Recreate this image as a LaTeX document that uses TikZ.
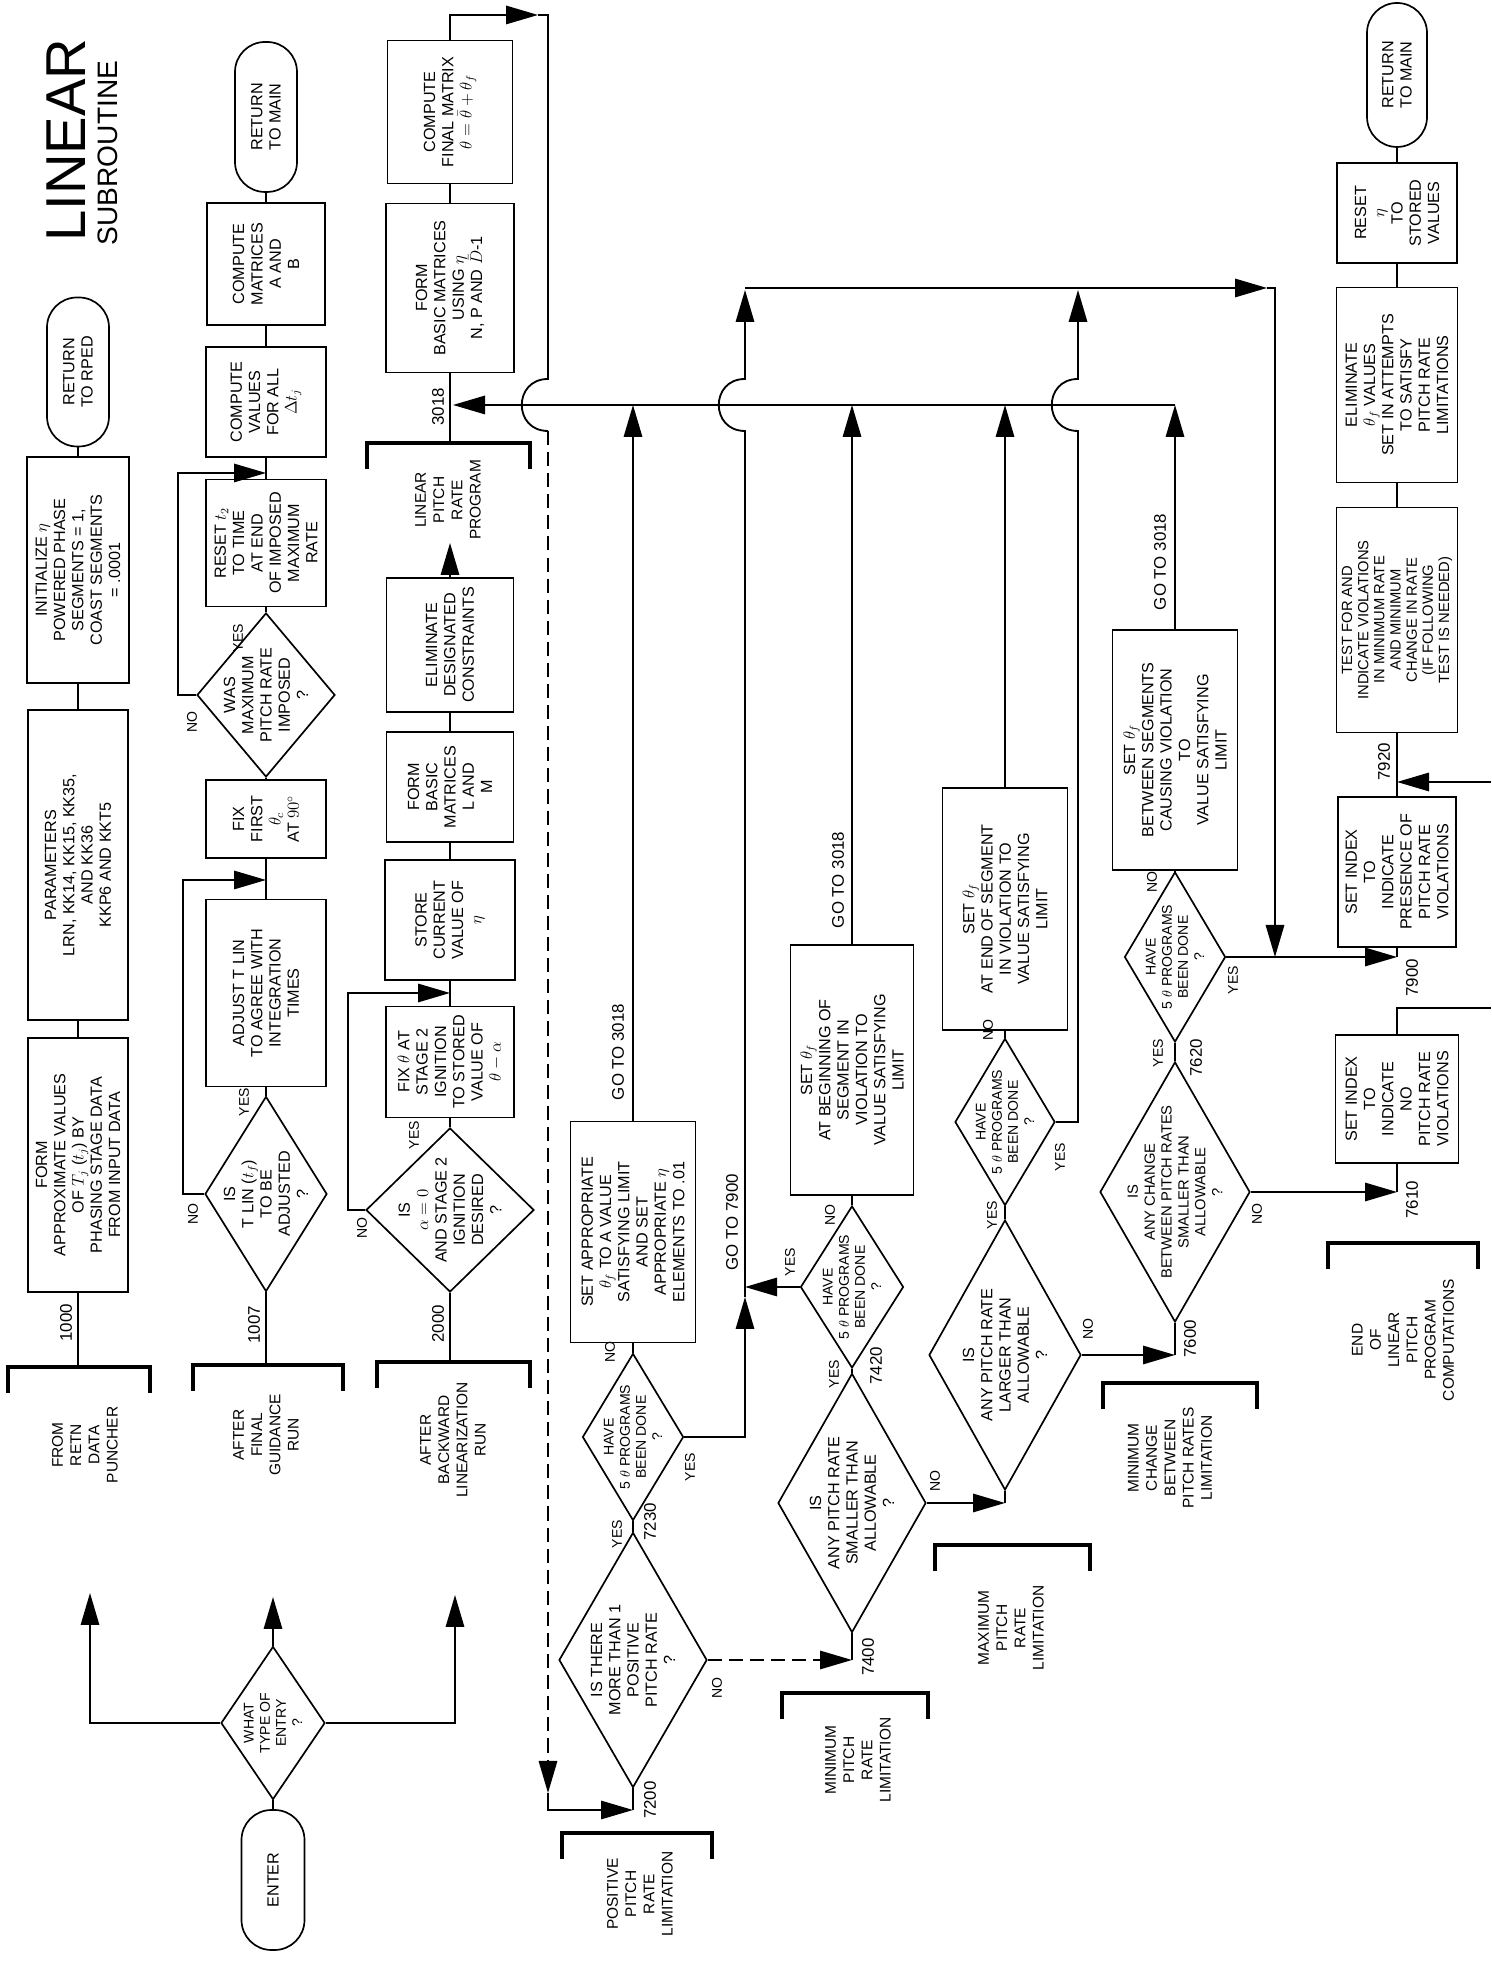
\documentclass[tikz,border=0pt]{standalone}
\usepackage{fontspec}
\setmainfont{Liberation Sans}
\usetikzlibrary{arrows.meta,shapes.geometric}

\tikzset{
  dims/.style 2 args={minimum width=#1*0.25mm, minimum height=#2*0.25mm},
  flowline/.style={line width=1.3pt},
  flowarrow/.style={line width=1.3pt, -{Triangle[length=8mm,width=4.6mm]}},
  brokenline/.style={dash pattern=on 10pt off 5pt},
  box/.style={draw, line width=1.2pt, align=center, inner sep=0pt,
    font=\fontsize{11.5}{13}\selectfont},
  term/.style={box, rounded corners=7.5mm},
  decide/.style={draw, line width=1.2pt, diamond, inner sep=0pt},
  dtext/.style={align=center, inner sep=0pt, font=\fontsize{11.5}{13}\selectfont},
  stext/.style={align=center, inner sep=0pt, font=\fontsize{10}{11.5}\selectfont},
  lab/.style={inner sep=0pt, font=\fontsize{10}{10}\selectfont},
  num/.style={inner sep=0pt, font=\fontsize{12}{12}\selectfont},
  goto/.style={inner sep=0pt, font=\fontsize{12}{12}\selectfont},
  bracket/.style={line width=3.5pt},
  brtext/.style={align=center, inner sep=0pt, font=\fontsize{11}{13}\selectfont},
}

\begin{document}
\begin{tikzpicture}[rotate=90, transform shape, x=0.25mm, y=0.25mm]
  \useasboundingbox (0,0) rectangle (1978,-1491);

  \node[font=\fontsize{40}{40}\selectfont] (title) at (1838,-66) {LINEAR};
  \node[font=\fontsize{20}{20}\selectfont] (subtitle) at (1825,-108) {SUBROUTINE};

  % entry
  \node[term, dims={140}{63}] (enter) at (98,-273) {ENTER};
  \node[decide, dims={153}{104}] (entry) at (255,-273) {};
  \node[stext] (entryt) at (entry) {WHAT\\TYPE OF\\ENTRY\\?};
  \draw[flowline] (enter.east) -- (entry.west);
  \draw[flowarrow] (entry.north) -- (255,-90) -- (385,-90);
  \draw[flowarrow] (entry.east) -- (381,-273);
  \draw[flowarrow] (entry.south) -- (255,-455) -- (383,-455);

  \foreach \bx/\ya/\yb in {611/-8/-150, 613/-193/-343, 616/-377/-530, 1535/-367/-530,
      145/-562/-712, 285/-782/-928, 433/-935/-1090, 595/-1103/-1257, 735/-1328/-1478}
    \draw[bracket] (\bx-26,\ya) -- (\bx,\ya) -- (\bx,\yb) -- (\bx-26,\yb);

  \node[brtext] (from1) at (533,-85) {FROM\\RETN\\DATA\\PUNCHER};
  \node[brtext] (from2) at (543,-266) {AFTER\\FINAL\\GUIDANCE\\RUN};
  \node[brtext] (from3) at (538,-453) {AFTER\\BACKWARD\\LINEARIZATION\\RUN};
  \node[brtext] (lprog) at (1478,-448) {LINEAR\\PITCH\\RATE\\PROGRAM};
  \node[brtext] (posrate) at (84,-640) {POSITIVE\\PITCH\\RATE\\LIMITATION};
  \node[brtext] (minrate) at (218,-858) {MINIMUM\\PITCH\\RATE\\LIMITATION};
  \node[brtext] (maxrate) at (350,-1011) {MAXIMUM\\PITCH\\RATE\\LIMITATION};
  \node[brtext] (minchg) at (520,-1170) {MINIMUM\\CHANGE\\BETWEEN\\PITCH RATES\\LIMITATION};
  \node[brtext] (endlin) at (638,-1403) {END\\OF\\LINEAR\\PITCH\\PROGRAM\\COMPUTATIONS};

  % row 1
  \node[term, dims={149}{62}] (rpedret) at (1606,-78) {RETURN\\TO RPED};
  \node[box, dims={226}{102}] (init) at (1408,-78) {INITIALIZE $\eta$\\POWERED PHASE\\SEGMENTS = 1,\\COAST SEGMENTS\\= .0001};
  \node[box, dims={310}{100}] (params) at (1113,-78) {PARAMETERS\\LRN, KK14, KK15, KK35,\\AND KK36\\KKP6 AND KKT5};
  \node[box, dims={254}{100}] (formapx) at (813,-78) {FORM\\APPROXIMATE VALUES\\OF $T_j$ ($t_j$) BY\\PHASING STAGE DATA\\FROM INPUT DATA};
  \coordinate (in1) at (611,-78);
  \draw[flowline] (in1) -- (formapx.west) (formapx.east) -- (params.west)
    (params.east) -- (init.west) (init.east) -- (rpedret.west);
  \node[num] (n1000) at (655,-66) {1000};

  % row 2
  \node[term, dims={150}{62}] (mainret1) at (1861,-266) {RETURN\\TO MAIN};
  \node[box, dims={122}{118}] (cmpmat) at (1714,-266) {COMPUTE\\MATRICES\\A AND\\B};
  \node[box, dims={110}{120}] (cmpval) at (1576,-266) {COMPUTE\\VALUES\\FOR ALL\\$\Delta t_j$};
  \node[box, dims={127}{120}] (reset2) at (1435,-266) {RESET $t_2$\\TO TIME\\AT END\\OF IMPOSED\\MAXIMUM\\RATE};
  \node[decide, dims={164}{138}] (wasmax) at (1283,-266) {};
  \node[dtext] (wasmaxt) at (wasmax) {WAS\\MAXIMUM\\PITCH RATE\\IMPOSED\\?};
  \node[box, dims={78}{120}] (fixfirst) at (1159,-266) {FIX\\FIRST\\$\theta_c$\\AT $90^\circ$};
  \node[box, dims={187}{120}] (adjust) at (985,-266) {ADJUST T LIN\\TO AGREE WITH\\INTEGRATION\\TIMES};
  \node[decide, dims={195}{122}] (chk1007) at (784,-266) {};
  \node[dtext] (chk1007t) at (chk1007) {IS\\T LIN ($t_f$)\\TO BE\\ADJUSTED\\?};
  \coordinate (in2) at (613,-266);
  \draw[flowline] (in2) -- (chk1007.west) (chk1007.east) -- (adjust.west)
    (adjust.east) -- (fixfirst.west) (fixfirst.east) -- (wasmax.west)
    (wasmax.east) -- (reset2.west) (reset2.east) -- (cmpval.west)
    (cmpval.east) -- (cmpmat.west) (cmpmat.east) -- (mainret1.west);
  \draw[flowarrow] (chk1007.north) -- (784,-183) -- (1098,-183) -- (1098,-266);
  \draw[flowarrow] (wasmax.north) -- (1283,-178) -- (1505,-178) -- (1505,-266);
  \node[num] (n1007) at (653,-254) {1007};

  % row 3
  \node[box, dims={143}{125}] (cfinal) at (1866,-450) {COMPUTE\\FINAL MATRIX\\$\theta=\bar{\theta}+\theta_f$};
  \node[box, dims={169}{128}] (fbasic) at (1690,-450) {FORM\\BASIC MATRICES\\USING $\eta$\\N, P AND $\bar{D}$-1};
  \node[box, dims={134}{127}] (elim) at (1333,-450) {ELIMINATE\\DESIGNATED\\CONSTRAINTS};
  \node[box, dims={110}{127}] (fbaslm) at (1191,-450) {FORM\\BASIC\\MATRICES\\L AND\\M};
  \node[box, dims={120}{130}] (store) at (1058,-450) {STORE\\CURRENT\\VALUE OF\\$\eta$};
  \node[box, dims={111}{128}] (fixst2) at (916,-450) {FIX $\theta$ AT\\STAGE 2\\IGNITION\\TO STORED\\VALUE OF\\$\theta-\alpha$};
  \node[decide, dims={164}{168}] (alpha0) at (768,-450) {};
  \node[dtext] (alpha0t) at (alpha0) {IS\\$\alpha=0$\\AND STAGE 2\\IGNITION\\DESIRED\\?};
  \coordinate (in3) at (616,-450);
  \coordinate (in3018) at (1535,-450);
  \draw[flowline] (in3) -- (alpha0.west) (alpha0.east) -- (fixst2.west)
    (fixst2.east) -- (store.west) (store.east) -- (fbaslm.west)
    (fbaslm.east) -- (elim.west) (in3018) -- (fbasic.west) (fbasic.east) -- (cfinal.west);
  \draw[flowarrow] (elim.east) -- (1435,-450);
  \draw[flowarrow] (alpha0.north) -- (768,-348) -- (985,-348) -- (985,-450);
  \node[num] (n2000) at (654,-438) {2000};
  \node[num] (n3018) at (1571,-438) {3018};

  % line to the positive pitch rate test
  \draw[flowarrow] (cfinal.east) -- (1963,-450) -- (1963,-538);
  \draw[flowline] (1963,-538) -- (1963,-548) -- (1599,-548)
    .. controls (1599,-513) and (1547,-513) .. (1547,-548);
  \draw[flowarrow, brokenline] (1547,-548) -- (185,-548);
  \draw[flowarrow] (185,-548) -- (168,-548) -- (168,-633);

  % positive pitch rate
  \node[decide, dims={255}{148}] (d7200) at (318,-633) {};
  \node[dtext] (d7200t) at (d7200) {IS THERE\\MORE THAN 1\\POSITIVE\\PITCH RATE\\?};
  \node[decide, dims={167}{101}] (d7230) at (541,-633) {};
  \node[stext] (d7230t) at (d7230) {HAVE\\5 $\theta$ PROGRAMS\\BEEN DONE\\?};
  \node[box, dims={221}{125}] (sapprop) at (746,-633) {SET APPROPRIATE\\$\theta_f$ TO A VALUE\\SATISFYING LIMIT\\AND SET\\APPROPRIATE $\eta$\\ELEMENTS TO .01};
  \draw[flowline] (d7200.west) -- (168,-633) (d7200.east) -- (d7230.west)
    (d7230.east) -- (sapprop.west);
  \draw[flowarrow] (sapprop.east) -- (1573,-633);
  \node[num] (n7200) at (178,-650) {7200};
  \node[num] (n7230) at (456,-650) {7230};
  \node[goto] (go3018a) at (926,-618) {GO TO 3018};

  % minimum pitch rate
  \node[decide, dims={259}{148}] (d7400) at (475,-852) {};
  \node[dtext] (d7400t) at (d7400) {IS\\ANY PITCH RATE\\SMALLER THAN\\ALLOWABLE\\?};
  \node[decide, dims={162}{103}] (d7420) at (691,-852) {};
  \node[stext] (d7420t) at (d7420) {HAVE\\5 $\theta$ PROGRAMS\\BEEN DONE\\?};
  \node[box, dims={250}{123}] (sbegin) at (908,-852) {SET $\theta_f$\\AT BEGINNING OF\\SEGMENT IN\\VIOLATION TO\\VALUE SATISFYING\\LIMIT};
  \draw[flowarrow, brokenline] (d7200.south) -- (318,-852);
  \draw[flowline] (d7400.west) -- (318,-852) (d7400.east) -- (d7420.west)
    (d7420.east) -- (sbegin.west);
  \draw[flowarrow] (sbegin.east) -- (1573,-852);
  \node[num] (n7400) at (321,-868) {7400};
  \node[num] (n7420) at (612,-876) {7420};
  \node[goto] (go3018b) at (1098,-838) {GO TO 3018};

  % go to 7900
  \draw[flowarrow] (d7230.south) -- (541,-745) -- (681,-745);
  \draw[flowarrow] (d7420.north) -- (691,-745);
  \draw[flowarrow] (681,-745) -- (1547,-745)
    .. controls (1547,-710) and (1599,-710) .. (1599,-745) -- (1688,-745);
  \draw[flowarrow] (1690,-745) -- (1690,-1267);
  \draw[flowarrow] (1690,-1267) -- (1690,-1275) -- (1021,-1275);
  \node[goto] (go7900) at (756,-732) {GO TO 7900};

  % maximum pitch rate
  \node[decide, dims={270}{152}] (d7500) at (623,-1005) {};
  \node[dtext] (d7500t) at (d7500) {IS\\ANY PITCH RATE\\LARGER THAN\\ALLOWABLE\\?};
  \node[decide, dims={167}{100}] (d7520) at (856,-1005) {};
  \node[stext] (d7520t) at (d7520) {HAVE\\5 $\theta$ PROGRAMS\\BEEN DONE\\?};
  \node[box, dims={242}{125}] (send) at (1069,-1005) {SET $\theta_f$\\AT END OF SEGMENT\\IN VIOLATION TO\\VALUE SATISFYING\\LIMIT};
  \draw[flowarrow] (d7400.south) -- (475,-1005);
  \draw[flowline] (d7500.west) -- (475,-1005) (d7500.east) -- (d7520.west)
    (d7520.east) -- (send.west);
  \draw[flowarrow] (send.east) -- (1573,-1005);
  \draw[flowarrow] (d7520.south) -- (856,-1078) -- (1547,-1078)
    .. controls (1547,-1043) and (1599,-1043) .. (1599,-1078) -- (1688,-1078);

  % minimum change between pitch rates
  \node[decide, dims={260}{150}] (d7600) at (786,-1175) {};
  \node[dtext, font=\fontsize{10.5}{12}\selectfont] (d7600t) at (d7600) {IS\\ANY CHANGE\\BETWEEN PITCH RATES\\SMALLER THAN\\ALLOWABLE\\?};
  \node[decide, dims={170}{101}] (d7620) at (1021,-1175) {};
  \node[stext] (d7620t) at (d7620) {HAVE\\5 $\theta$ PROGRAMS\\BEEN DONE\\?};
  \node[box, dims={240}{125}] (sbetween) at (1228,-1175) {SET $\theta_f$\\BETWEEN SEGMENTS\\CAUSING VIOLATION\\TO\\VALUE SATISFYING\\LIMIT};
  \draw[flowarrow] (d7500.south) -- (623,-1175);
  \draw[flowline] (d7600.west) -- (623,-1175) (d7600.east) -- (d7620.west)
    (d7620.east) -- (sbetween.west);
  \draw[flowarrow] (sbetween.east) -- (1573,-1175);
  \draw[flowarrow] (1573,-1175) -- (1573,-453);
  \node[num] (n7600) at (639,-1190) {7600};
  \node[num] (n7620) at (920,-1196) {7620};
  \node[goto] (go3018c) at (1416,-1160) {GO TO 3018};

  % end of computations
  \node[term, dims={144}{60}] (mainret2) at (1903,-1397) {RETURN\\TO MAIN};
  \node[box, dims={100}{120}] (reseteta) at (1765,-1397) {RESET\\$\eta$\\TO\\STORED\\VALUES};
  \node[box, dims={195}{121}] (elimf) at (1593,-1397) {ELIMINATE\\$\theta_f$ VALUES\\SET IN ATTEMPTS\\TO SATISFY\\PITCH RATE\\LIMITATIONS};
  \node[box, dims={225}{121}, font=\fontsize{10.5}{11.5}\selectfont] (testv) at (1358,-1397) {TEST FOR AND\\INDICATE VIOLATIONS\\IN MINIMUM RATE\\AND MINIMUM\\CHANGE IN RATE\\(IF FOLLOWING\\TEST IS NEEDED)};
  \node[box, dims={150}{118}] (idxyes) at (1106,-1397) {SET INDEX\\TO\\INDICATE\\PRESENCE OF\\PITCH RATE\\VIOLATIONS};
  \node[box, dims={128}{123}] (idxno) at (879,-1397) {SET INDEX\\TO\\INDICATE\\NO\\PITCH RATE\\VIOLATIONS};
  \draw[flowline] (idxyes.east) -- (testv.west) (testv.east) -- (elimf.west)
    (elimf.east) -- (reseteta.west) (reseteta.east) -- (mainret2.west)
    (idxyes.west) -- (1021,-1397) (idxno.west) -- (786,-1397)
    (idxno.east) -- (970,-1397) -- (970,-1491);
  \draw[flowarrow] (d7620.south) -- (1021,-1397);
  \draw[flowarrow] (d7600.south) -- (786,-1397);
  \draw[flowarrow] (1196,-1491) -- (1196,-1397);
  \node[num] (n7610) at (778,-1412) {7610};
  \node[num] (n7900) at (1000,-1412) {7900};
  \node[num] (n7920) at (1216,-1384) {7920};

  \foreach \x/\y/\t [count=\i] in {
      1256/-192/NO, 1340/-238/YES, 764/-193/NO, 876/-244/YES,
      750/-362/NO, 843/-414/YES, 444/-617/YES, 290/-717/NO,
      626/-610/NO, 511/-690/YES, 604/-834/YES, 497/-935/NO,
      763/-830/NO, 716/-790/YES, 763/-992/YES, 649/-1088/NO,
      948/-988/NO, 821/-1060/YES, 925/-1158/YES, 764/-1257/NO,
      1096/-1152/NO, 998/-1233/YES}
    \node[lab] (yn\i) at (\x,\y) {\t};
\end{tikzpicture}
\end{document}
